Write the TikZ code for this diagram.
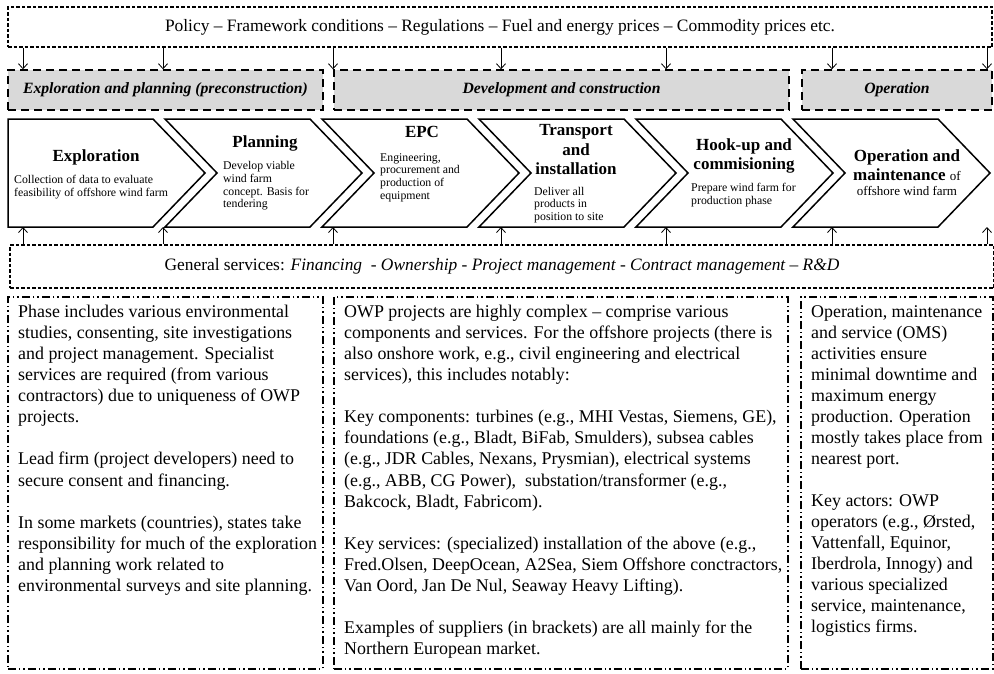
\documentclass[tikz,border=0pt]{standalone}
\usepackage{fontspec}
\setmainfont{Liberation Serif}
\usepackage{tikz}
\usetikzlibrary{calc,arrows.meta,positioning}
\tikzstyle{envbox} = [rectangle, draw=black, line width=1.1pt, dash pattern=on 3.5pt off 2pt, inner sep=0pt, font=\fontsize{17.4}{19}\selectfont]
\tikzstyle{phasehead} = [rectangle, draw=black, fill=black!15, line width=1.4pt, dash pattern=on 8pt off 5pt, inner sep=0pt, font=\fontsize{15.7}{18}\selectfont\bfseries\itshape]
\tikzstyle{chevron} = [draw=black, line width=1.5pt, line join=miter]
\tikzstyle{chevtitle} = [inner sep=0pt, align=center, font=\fontsize{17}{19.5}\selectfont\bfseries]
\tikzstyle{chevdesc} = [inner sep=0pt, align=left, font=\fontsize{11.8}{12.6}\selectfont]
\tikzstyle{infobox} = [rectangle, draw=black, line width=1.5pt, dash pattern=on 8pt off 3pt on 1.5pt off 3pt on 1.5pt off 3pt, inner sep=0pt]
\tikzstyle{infotext} = [inner sep=0pt, align=left, font=\fontsize{17.9}{21.05}\selectfont]
\tikzstyle{arrow} = [line width=0.8pt,-{Straight Barb[length=5pt,width=9pt]}]

\begin{document}
\begin{tikzpicture}[x=1pt,y=-1pt]
\useasboundingbox (0,0) rectangle (994,673);

	%% Framework conditions on top
	\node[envbox, minimum width=984pt, minimum height=40pt] (policy) at (500,27)
	  {Policy – Framework conditions – Regulations – Fuel and energy prices – Commodity prices etc.};

	%% Phase headers
	\node[phasehead, minimum width=315pt, minimum height=40pt] (hdr1) at (165.5,90) {Exploration and planning (preconstruction)};
	\node[phasehead, minimum width=455pt, minimum height=40pt] (hdr2) at (561.5,90) {Development and construction};
	\node[phasehead, minimum width=190pt, minimum height=40pt] (hdr3) at (897,90) {Operation};

	%% Value chain steps (chevrons)
	\coordinate (ctop) at (0,119);
	\coordinate (cbot) at (0,227);
	\draw[chevron] (8,119) -- (153,119) -- (205,173) -- (153,227) -- (8,227) -- cycle;
	\foreach \i in {1,...,5}
	{
	  \pgfmathsetmacro{\xl}{8+157*\i}
	  \pgfmathsetmacro{\xr}{153+157*\i}
	  \draw[chevron] (\xl,119) -- (\xr,119) -- (\xr+52,173) -- (\xr,227)
	    -- (\xl,227) -- (\xl+52,173) -- cycle;
	}

	% texts of the steps
	\node[chevtitle] (t1) at (96,157) {Exploration};
	\node[chevdesc, anchor=west] (d1) at (14,187) {Collection of data to evaluate\\feasibility of offshore wind farm};
	\node[chevtitle] (t2) at (265,143) {Planning};
	\node[chevdesc, anchor=west] (d2) at (223,186) {Develop viable\\wind farm\\concept. Basis for\\tendering};
	\node[chevtitle] (t3) at (422,132) {EPC};
	\node[chevdesc, anchor=west] (d3) at (380,177.5) {Engineering,\\procurement and\\production of\\equipment};
	\node[chevtitle] (t4) at (576,150) {Transport\\and\\installation};
	\node[chevdesc, anchor=west] (d4) at (534,205) {Deliver all\\products in\\position to site};
	\node[chevtitle] (t5) at (744,156) {Hook-up and\\commisioning};
	\node[chevdesc, anchor=west] (d5) at (691,195) {Prepare wind farm for\\production phase};
	\node[chevtitle] (t6) at (907,165) {Operation and\\maintenance {\mdseries\fontsize{13}{15}\selectfont of}};
	\node[inner sep=0pt, font=\fontsize{13}{15}\selectfont] (d6) at (907,191) {offshore wind farm};

	%% General services
	\node[envbox, minimum width=984pt, minimum height=43pt] (gen) at (502,266.5)
	  {General services: \textit{Financing\ \ - Ownership - Project management - Contract management – R\&D}};

	%% Influence arrows
	\foreach \x in {23,163,333,501,666,832,987}
	{
	  \draw[arrow] (\x,0 |- policy.south) -- (\x,0 |- hdr1.north);
	  \draw[arrow] (\x,0 |- gen.north) -- (\x,0 |- cbot);
	}

	%% Description boxes
	\node[infobox, minimum width=315pt, minimum height=372pt, anchor=north west] (info1) at (7,296) {};
	\node[infobox, minimum width=454pt, minimum height=372pt, anchor=north west] (info2) at (333,296) {};
	\node[infobox, minimum width=192pt, minimum height=372pt, anchor=north west] (info3) at (800,296) {};

	\node[infotext, anchor=north west] (txt1) at (18,305)
	  {Phase includes various environmental\\
	   studies, consenting, site investigations\\
	   and project management. Specialist\\
	   services are required (from various\\
	   contractors) due to uniqueness of OWP\\
	   projects.\\[21.05pt]
	   Lead firm (project developers) need to\\
	   secure consent and financing.\\[21.05pt]
	   In some markets (countries), states take\\
	   responsibility for much of the exploration\\
	   and planning work related to\\
	   environmental surveys and site planning.};
	\node[infotext, anchor=north west] (txt2) at (344,305)
	  {OWP projects are highly complex – comprise various\\
	   components and services. For the offshore projects (there is\\
	   also onshore work, e.g., civil engineering and electrical\\
	   services), this includes notably:\\[21.05pt]
	   Key components: turbines (e.g., MHI Vestas, Siemens, GE),\\
	   foundations (e.g., Bladt, BiFab, Smulders), subsea cables\\
	   (e.g., JDR Cables, Nexans, Prysmian), electrical systems\\
	   (e.g., ABB, CG Power),\ \ substation/transformer (e.g.,\\
	   Bakcock, Bladt, Fabricom).\\[21.05pt]
	   Key services: (specialized) installation of the above (e.g.,\\
	   Fred.Olsen, DeepOcean, A2Sea, Siem Offshore conctractors,\\
	   Van Oord, Jan De Nul, Seaway Heavy Lifting).\\[21.05pt]
	   Examples of suppliers (in brackets) are all mainly for the\\
	   Northern European market.};
	\node[infotext, anchor=north west] (txt3) at (811,305)
	  {Operation, maintenance\\
	   and service (OMS)\\
	   activities ensure\\
	   minimal downtime and\\
	   maximum energy\\
	   production. Operation\\
	   mostly takes place from\\
	   nearest port.\\[21.05pt]
	   Key actors: OWP\\
	   operators (e.g., Ørsted,\\
	   Vattenfall, Equinor,\\
	   Iberdrola, Innogy) and\\
	   various specialized\\
	   service, maintenance,\\
	   logistics firms.};
\end{tikzpicture}
\end{document}
